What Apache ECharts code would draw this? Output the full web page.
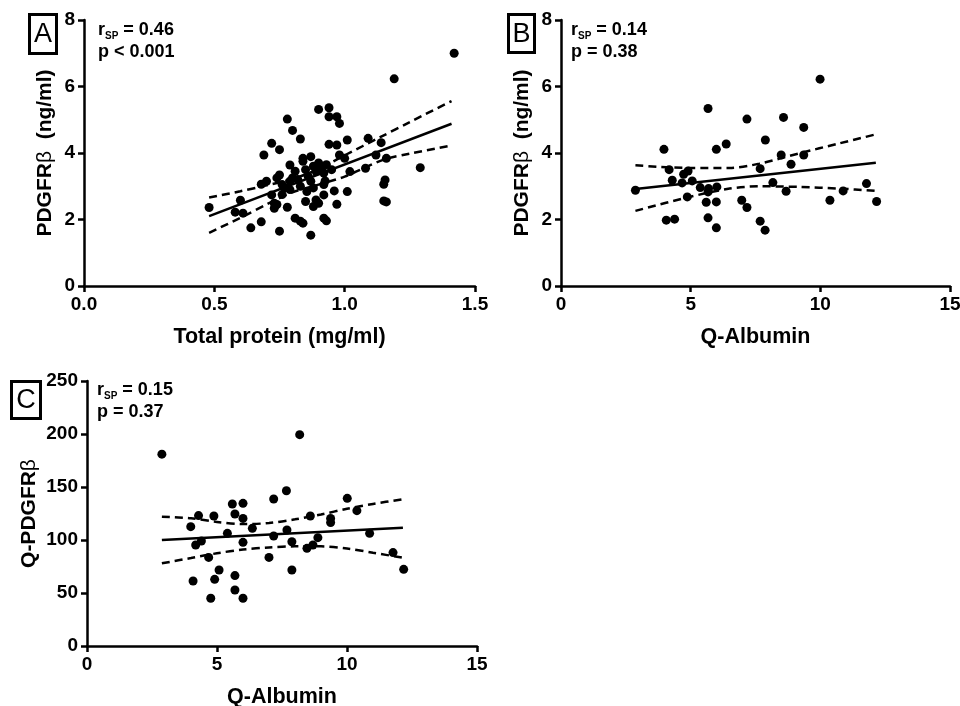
<!DOCTYPE html>
<html><head><meta charset="utf-8">
<script src="https://cdn.jsdelivr.net/npm/echarts@6/dist/echarts.min.js"></script>
<style>html,body{margin:0;padding:0;background:#fff}#c{width:960px;height:706px}</style>
</head><body><div id="c"></div>
<script>
const FONT = '"Liberation Sans", Arial, Helvetica, sans-serif';

// ---------- Panel A: PDGFRβ vs total protein ----------
const panelA_points = [
  [0.48,2.36],[0.60,2.58],[0.58,2.22],[0.61,2.19],[0.64,1.75],[0.68,1.93],[0.69,3.94],[0.68,3.06],
  [0.70,3.15],[0.72,4.29],[0.75,4.10],[0.75,1.65],[0.78,5.02],[0.80,4.68],[0.79,3.64],[0.83,4.42],
  [0.84,3.84],[0.87,3.89],[0.87,1.53],[0.81,2.04],[0.83,1.95],[0.84,1.89],[0.90,5.31],[0.94,5.36],
  [0.94,5.09],[0.97,5.09],[0.98,4.89],[0.94,4.26],[0.97,4.24],[1.01,4.39],[1.09,4.44],[1.14,4.31],
  [0.98,3.94],[1.00,3.84],[1.12,3.94],[1.16,3.84],[1.08,3.54],[1.02,3.44],[0.925,3.16],[1.155,3.19],
  [1.15,3.06],[0.96,2.86],[1.01,2.84],[0.855,2.84],[0.85,2.54],[0.89,2.59],[0.88,2.39],[0.90,2.49],
  [0.92,2.74],[0.97,2.46],[1.15,2.56],[1.16,2.53],[0.92,2.04],[0.93,1.96],[1.19,6.23],[1.29,3.56],
  [1.42,7.00],[0.73,2.34],[0.73,2.49],[0.78,2.37],[0.72,2.74],[0.75,3.34],[0.74,3.25],[0.76,3.05],
  [0.77,2.95],[0.79,3.15],[0.80,3.25],[0.82,3.20],[0.81,3.45],[0.85,3.50],[0.86,3.30],[0.88,3.60],
  [0.89,3.45],[0.90,3.70],[0.91,3.55],[0.92,3.40],[0.87,3.15],[0.83,3.00],[0.79,2.90],[0.76,2.75],
  [0.84,3.75],[0.93,3.65],[0.95,3.50],[0.88,2.95],[0.92,3.05],[0.74,2.45]
];
const panelA_fit = [[0.48,2.10],[1.41,4.88]];
const panelA_upper = [[0.48,2.66],[0.60,2.85],[0.68,2.99],[0.80,3.22],[0.90,3.52],[1.00,3.93],[1.14,4.49],[1.25,4.93],[1.41,5.56]];
const panelA_lower = [[0.48,1.60],[0.60,2.05],[0.71,2.49],[0.80,2.82],[0.90,3.05],[1.00,3.29],[1.15,3.80],[1.25,3.98],[1.40,4.21]];

// ---------- Panel B: PDGFRβ vs Q-Albumin ----------
const panelB_points = [
  [2.87,2.88],[3.97,4.11],[4.17,3.50],[4.29,3.18],[4.06,1.98],[4.38,2.01],[4.67,3.10],[4.73,3.36],
  [4.90,3.46],[4.87,2.68],[5.06,3.16],[5.37,2.96],[5.67,5.34],[5.69,2.93],[5.67,2.83],[5.60,2.52],
  [5.67,2.05],[5.99,4.11],[6.01,2.98],[5.99,2.53],[5.99,1.75],[6.37,4.27],[6.97,2.58],[7.17,5.02],
  [7.17,2.36],[7.68,3.53],[7.68,1.95],[7.87,1.68],[7.88,4.39],[8.17,3.11],[8.49,3.94],[8.58,5.07],
  [8.68,2.85],[8.87,3.66],[9.36,4.77],[9.36,3.94],[9.99,6.22],[10.37,2.58],[10.88,2.86],[11.78,3.08],
  [12.17,2.54]
];
const panelB_fit = [[2.87,2.92],[12.14,3.71]];
const panelB_upper = [[2.87,3.63],[4.96,3.55],[6.50,3.55],[7.65,3.68],[9.19,3.99],[10.73,4.29],[12.14,4.56]];
const panelB_lower = [[2.87,2.26],[4.96,2.68],[6.50,2.93],[7.65,3.00],[9.19,2.98],[10.73,2.93],[12.14,2.86]];

// ---------- Panel C: Q-PDGFRβ vs Q-Albumin ----------
const panelC_points = [
  [2.88,181],[3.99,112.6],[4.29,123],[4.08,61.3],[4.18,95.3],[4.40,99.1],[4.88,122.6],[4.68,83.6],
  [4.76,45],[4.91,62.9],[5.08,71.7],[5.40,106.3],[5.59,134],[6.00,134.6],[5.69,124.5],[6.00,120.4],
  [6.00,97.8],[5.69,66.4],[5.69,52.8],[6.00,45],[6.36,111],[7.00,83.6],[7.18,138.7],[7.18,103.8],
  [7.67,146.5],[7.69,109.4],[7.88,98.4],[7.88,71.7],[8.18,199.4],[8.46,92.1],[8.59,122.6],[8.69,95.3],
  [8.88,102.2],[9.37,120.4],[9.37,116.4],[10.01,139.3],[10.38,127.7],[10.87,106.3],[11.77,88.1],[12.18,72.3]
];
const panelC_fit = [[2.88,100.0],[12.15,111.6]];
const panelC_upper = [[2.88,122],[4.0,120.5],[5.0,117],[6.0,115],[7.0,116],[8.0,119.5],[9.0,124],[10.0,129.5],[11.0,134],[12.15,138.5]];
const panelC_lower = [[2.88,78],[4.0,83],[5.0,87.5],[6.0,91],[7.0,93],[8.0,94],[9.0,94],[10.0,92],[11.0,88],[12.15,83.3]];

const xTicksA = {min:0, max:1.5, interval:0.5};
const yTicksAB = {min:0, max:8, interval:2};
const xTicksBC = {min:0, max:15, interval:5};
const yTicksC = {min:0, max:250, interval:50};

const labelsText = {
  A: ['0.46', 'p < 0.001'],
  B: ['0.14', 'p = 0.38'],
  C: ['0.15', 'p = 0.37']
};

function xAx(gi, t, name, fmt) {
  return {type:'value', gridIndex:gi, min:t.min, max:t.max, interval:t.interval,
    name:name, nameLocation:'middle', nameGap:40,
    nameTextStyle:{fontFamily:FONT, fontWeight:'bold', fontSize:21.5, color:'#000'},
    axisLine:{show:true, onZero:false, lineStyle:{color:'#000', width:2.5}},
    axisTick:{show:true, length:6, lineStyle:{color:'#000', width:2.5}},
    axisLabel:{fontFamily:FONT, fontWeight:'bold', fontSize:19, color:'#000', margin:9, formatter:fmt, showMinLabel:true, showMaxLabel:true},
    splitLine:{show:false}};
}
function yAx(gi, t, name, gap) {
  return {type:'value', gridIndex:gi, min:t.min, max:t.max, interval:t.interval,
    name:name, nameLocation:'middle', nameGap:gap,
    nameTextStyle:{fontFamily:FONT, fontWeight:'bold', fontSize:21, color:'#000',
      rich:{b:{fontFamily:FONT, fontWeight:'normal', fontSize:21, color:'#000'}}},
    axisLine:{show:true, onZero:false, lineStyle:{color:'#000', width:2.5}},
    axisTick:{show:true, length:6, lineStyle:{color:'#000', width:2.5}},
    axisLabel:{fontFamily:FONT, fontWeight:'bold', fontSize:19, color:'#000', margin:9, showMinLabel:true, showMaxLabel:true},
    splitLine:{show:false}};
}
function scatter(i, data) {
  return {type:'scatter', xAxisIndex:i, yAxisIndex:i, data:data, symbol:'circle', symbolSize:9,
    itemStyle:{color:'#000', opacity:1}, silent:true, z:3};
}
function line(i, data, dashed) {
  return {type:'line', xAxisIndex:i, yAxisIndex:i, data:data, symbol:'none', smooth:dashed ? 0.3 : false,
    lineStyle:{color:'#000', width:2.5, type: dashed ? [8,5] : 'solid'}, silent:true, z:4};
}
function statText(x, y, key) {
  return {type:'text', left:x, top:y, style:{
    text:'{r|r}{s|SP}{r| = ' + labelsText[key][0] + '}\n{r|' + labelsText[key][1] + '}',
    rich:{r:{fontFamily:FONT, fontWeight:'bold', fontSize:18, color:'#000', lineHeight:22},
          s:{fontFamily:FONT, fontWeight:'bold', fontSize:10, color:'#000', lineHeight:22, verticalAlign:'bottom'}}
  }};
}
function panelBox(x, y, w, h, letter) {
  return [
    {type:'rect', shape:{x:x, y:y, width:w, height:h}, style:{fill:'#fff', stroke:'#000', lineWidth:3}},
    {type:'text', x:x + w/2, y:y + h/2 + 1, style:{text:letter, fontFamily:FONT, fontSize:27, fill:'#000', align:'center', verticalAlign:'middle'}}
  ];
}

const chart = echarts.init(document.getElementById('c'), null, {renderer:'canvas'});
chart.setOption({
  backgroundColor:'#fff',
  animation:false,
  grid:[
    {left:84, top:20, width:391, height:266, outerBoundsMode:'none'},
    {left:561, top:20, width:389, height:266, outerBoundsMode:'none'},
    {left:87, top:381, width:390, height:265, outerBoundsMode:'none'}
  ],
  xAxis:[
    xAx(0, xTicksA, 'Total protein (mg/ml)', v => v.toFixed(1)),
    xAx(1, xTicksBC, 'Q-Albumin'),
    xAx(2, xTicksBC, 'Q-Albumin')
  ],
  yAxis:[
    yAx(0, yTicksAB, 'PDGFR{b|β}  (ng/ml)', 28),
    yAx(1, yTicksAB, 'PDGFR{b|β}  (ng/ml)', 28),
    yAx(2, yTicksC, 'Q-PDGFR{b|β}', 47)
  ],
  series:[
    scatter(0, panelA_points), line(0, panelA_fit, false), line(0, panelA_upper, true), line(0, panelA_lower, true),
    scatter(1, panelB_points), line(1, panelB_fit, false), line(1, panelB_upper, true), line(1, panelB_lower, true),
    scatter(2, panelC_points), line(2, panelC_fit, false), line(2, panelC_upper, true), line(2, panelC_lower, true)
  ],
  graphic:[
    ...panelBox(29.5, 14.5, 27, 39, 'A'),
    ...panelBox(508.5, 14.5, 26, 38, 'B'),
    ...panelBox(11.5, 381.5, 29, 37, 'C'),
    statText(98, 21, 'A'),
    statText(571, 21, 'B'),
    statText(97, 381, 'C')
  ]
});
</script>
</body></html>
